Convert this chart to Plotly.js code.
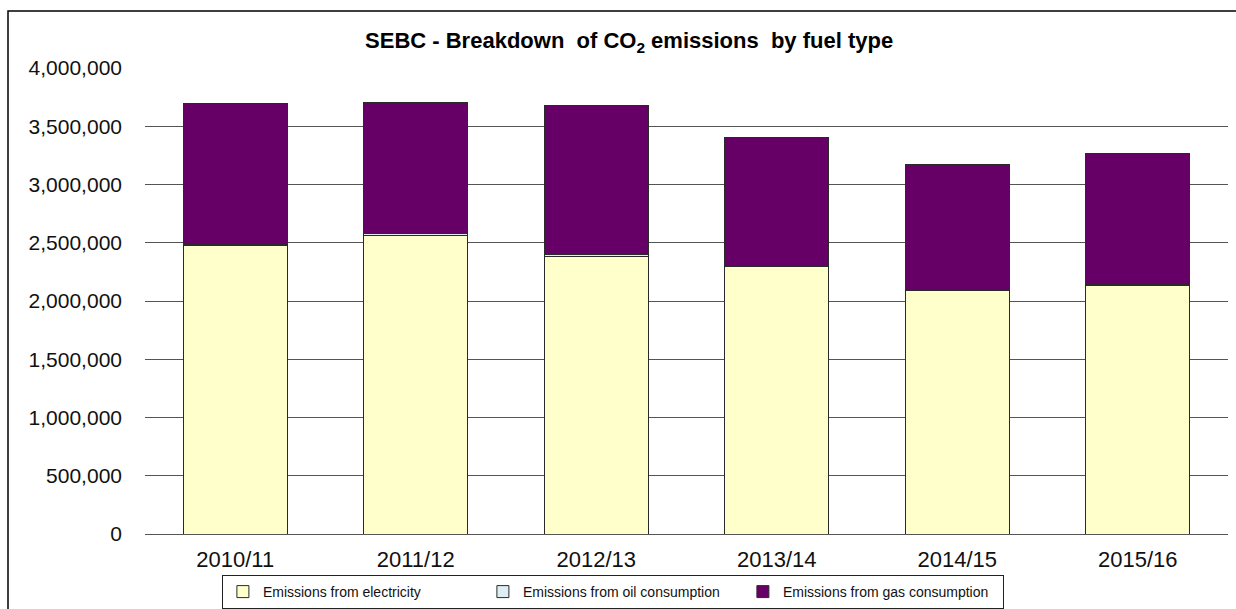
<!DOCTYPE html>
<html>
<head>
<meta charset="utf-8">
<script src="https://cdn.plot.ly/plotly-3.0.1.min.js"></script>
<style>
  html, body { margin: 0; padding: 0; background: #ffffff; }
  #chart { width: 1236px; height: 609px; }
</style>
</head>
<body>
<div id="chart"></div>
<script>
const years = ["2010/11", "2011/12", "2012/13", "2013/14", "2014/15", "2015/16"];
const electricity = [2475000, 2565000, 2380000, 2300000, 2090000, 2135000];
const oil = [12000, 12000, 22000, 5000, 5000, 5000];
const gas = [1205000, 1125000, 1280000, 1100000, 1075000, 1130000];
const seriesNames = ["Emissions from electricity", "Emissions from oil consumption", "Emissions from gas consumption"];

const outline = { color: "#2a2a2a", width: 1 };

const traces = [
  { type: "bar", name: seriesNames[0], x: years, y: electricity,
    marker: { color: "#FFFFCC", line: outline } },
  { type: "bar", name: seriesNames[1], x: years, y: oil,
    marker: { color: "#DDEFF4", line: outline } },
  { type: "bar", name: seriesNames[2], x: years, y: gas,
    marker: { color: "#660066", line: outline } }
];

const layout = {
  width: 1236, height: 609,
  barmode: "stack",
  bargap: 0.424,
  paper_bgcolor: "#ffffff",
  plot_bgcolor: "#ffffff",
  margin: { l: 145, r: 8, t: 68, b: 75, autoexpand: false },
  font: { family: "Liberation Sans, Arial, sans-serif", color: "#111" },
  title: {
    text: "<b>SEBC - Breakdown  of CO<sub>2</sub> emissions  by fuel type</b>",
    font: { size: 22, family: "Liberation Sans, Arial, sans-serif", color: "#000" },
    xref: "container", yref: "container",
    x: 0.509, y: 0.934, xanchor: "center", yanchor: "middle"
  },
  xaxis: {
    type: "category",
    showgrid: false,
    showline: false,
    zeroline: false,
    ticks: "",
    ticklabelstandoff: 10,
    tickfont: { size: 22, color: "#111" }
  },
  yaxis: {
    range: [0, 4000000],
    tickvals: [0, 500000, 1000000, 1500000, 2000000, 2500000, 3000000, 3500000, 4000000],
    tickformat: ",d",
    showgrid: true,
    gridcolor: "#555555",
    gridwidth: 1,
    zeroline: true,
    zerolinecolor: "#555555",
    zerolinewidth: 1,
    showline: false,
    ticks: "",
    ticklabelstandoff: 22,
    tickfont: { size: 21, color: "#111" }
  },
  showlegend: true,
  legend: {
    orientation: "h",
    x: 0.071, xanchor: "left",
    y: -0.088, yanchor: "top",
    bordercolor: "#222",
    borderwidth: 1,
    bgcolor: "#ffffff",
    font: { size: 14, color: "#111" },
    entrywidth: 215,
    entrywidthmode: "pixels",
    traceorder: "normal",
    itemwidth: 30
  },
  shapes: [
    { type: "rect", xref: "paper", yref: "paper",
      x0: -0.1265, x1: 1.04, y0: -0.2, y1: 1.1223,
      line: { color: "#000", width: 1.5 }, fillcolor: "rgba(0,0,0,0)", layer: "below" }
  ]
};

Plotly.newPlot("chart", traces, layout, { displayModeBar: false, staticPlot: true });
</script>
</body>
</html>
